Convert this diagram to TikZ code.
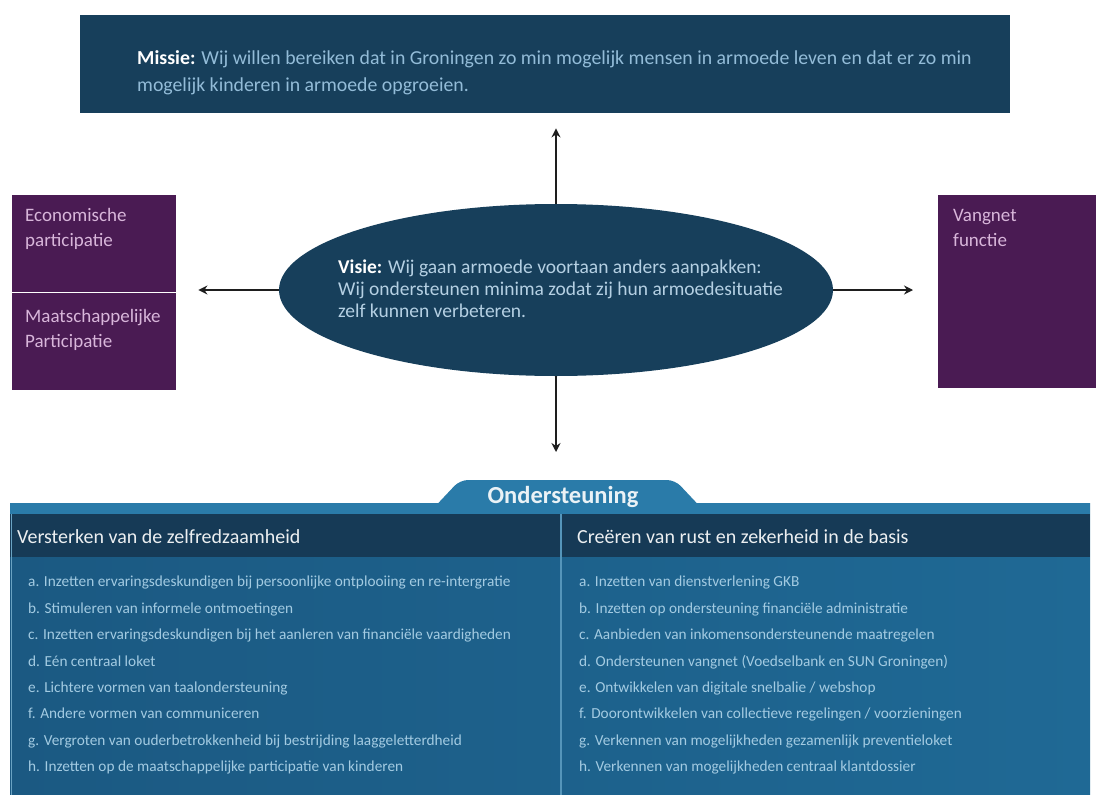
\documentclass[tikz,border=0pt]{standalone}
\usepackage{fontspec}
\setmainfont{Carlito}
\usetikzlibrary{positioning,shapes.geometric,arrows.meta}

\definecolor{donkerblauw}{HTML}{173F5B}
\definecolor{missietekst}{HTML}{93BCD8}
\definecolor{visietekst}{HTML}{B5D0E3}
\definecolor{paars}{HTML}{4A1B53}
\definecolor{paarstekst}{HTML}{D8B6DA}
\definecolor{paneellinks}{HTML}{1B5982}
\definecolor{paneelrechts}{HTML}{1F6995}
\definecolor{kopband}{HTML}{163A56}
\definecolor{tabblauw}{HTML}{2A7BA9}
\definecolor{itemtekst}{HTML}{A3CBE2}
\definecolor{pijlkleur}{HTML}{1E1E1E}

\begin{document}
\begin{tikzpicture}[x=1pt,y=-1pt,
  pijl/.style={draw=pijlkleur, line width=2pt, -{Stealth[length=9pt,width=9pt]}},
  blok/.style={inner sep=0pt, anchor=north west},
  tekst/.style={inner sep=0pt, anchor=north west, align=left},
]

\fill[white] (0,0) rectangle (1096,795);
\useasboundingbox (0,0) rectangle (1096,795);

% missie en visie
\node (missie) [blok, fill=donkerblauw, minimum width=930, minimum height=98] at (80,15) {};
\node (visie) [ellipse, fill=donkerblauw, minimum width=554, minimum height=172, inner sep=0pt] at (556,290) {};

\node (missietxt) [tekst, text=missietekst, font=\fontsize{19.8}{27}\selectfont] at (137,50)
  {\textbf{\color{white}Missie:} Wij willen bereiken dat in Groningen zo min mogelijk mensen in armoede leven en dat er zo min\\mogelijk kinderen in armoede opgroeien.};
\node (visietxt) [tekst, text=visietekst, font=\fontsize{19.5}{22}\selectfont] at (338,260)
  {\textbf{\color{white}Visie:} Wij gaan armoede voortaan anders aanpakken:\\Wij ondersteunen minima zodat zij hun armoedesituatie\\zelf kunnen verbeteren.};

% participatie en vangnet
\node (econ) [blok, fill=paars, minimum width=164, minimum height=97] at (12,195) {};
\node (maat) [blok, fill=paars, minimum width=164, minimum height=98] at (12,292) {};
\draw [white, line width=1.5pt] (econ.south west) -- (econ.south east);
\node (vangnet) [blok, fill=paars, minimum width=158, minimum height=193] at (938,195) {};

\node (econtxt) [tekst, text=paarstekst, font=\fontsize{19}{25}\selectfont] at (25,208) {Economische\\participatie};
\node (maattxt) [tekst, text=paarstekst, font=\fontsize{19}{25}\selectfont] at (25,309) {Maatschappelijke\\Participatie};
\node (vangnettxt) [tekst, text=paarstekst, font=\fontsize{19}{25}\selectfont] at (953,209) {Vangnet\\functie};

% pijlen
\coordinate (tabtop) at (556,480);
\draw [pijl, shorten >=15pt] (visie.north) -- (visie.north |- missie.south);
\draw [pijl, shorten >=22pt] (visie.west) -- (visie.west -| econ.east);
\draw [pijl, shorten >=25pt] (visie.east) -- (visie.east -| vangnet.west);
\draw [pijl, shorten >=28pt] (visie.south) -- (tabtop);

% ondersteuning
\shade [left color=paneellinks, right color=paneelrechts] (10,503) rectangle (1090,795);
\fill [tabblauw, rounded corners=8pt] (428,514) -- (460,480) -- (675,480) -- (707,514) -- cycle;
\fill [tabblauw] (10,503) rectangle (1090,514);
\fill [kopband] (10,514) rectangle (1090,557);
\draw [tabblauw!80!white, line width=1.5pt] (561,514) -- (561,795);
\draw [tabblauw!70!white, line width=1pt] (11,514) -- (11,795);

\node (ondersteuning) [font=\bfseries\fontsize{24.5}{28}\selectfont, text=white!90!tabblauw] at (563,497) {Ondersteuning};
\node (kopzelf) [tekst, text=white!92!kopband, font=\fontsize{20}{24}\selectfont] at (17,529) {Versterken van de zelfredzaamheid};
\node (kopbasis) [tekst, text=white!92!kopband, font=\fontsize{20}{24}\selectfont] at (577,529) {Creëren van rust en zekerheid in de basis};

\node (zelfitems) [tekst, text=itemtekst, font=\fontsize{15.3}{26.4}\selectfont] at (28,576)
  {a. Inzetten ervaringsdeskundigen bij persoonlijke ontplooiing en re-intergratie\\
   b. Stimuleren van informele ontmoetingen\\
   c. Inzetten ervaringsdeskundigen bij het aanleren van financiële vaardigheden\\
   d. Eén centraal loket\\
   e. Lichtere vormen van taalondersteuning\\
   f. Andere vormen van communiceren\\
   g. Vergroten van ouderbetrokkenheid bij bestrijding laaggeletterdheid\\
   h. Inzetten op de maatschappelijke participatie van kinderen};
\node (basisitems) [tekst, text=itemtekst, font=\fontsize{15.3}{26.4}\selectfont] at (579,576)
  {a. Inzetten van dienstverlening GKB\\
   b. Inzetten op ondersteuning financiële administratie\\
   c. Aanbieden van inkomensondersteunende maatregelen\\
   d. Ondersteunen vangnet (Voedselbank en SUN Groningen)\\
   e. Ontwikkelen van digitale snelbalie / webshop\\
   f. Doorontwikkelen van collectieve regelingen / voorzieningen\\
   g. Verkennen van mogelijkheden gezamenlijk preventieloket\\
   h. Verkennen van mogelijkheden centraal klantdossier};

\end{tikzpicture}
\end{document}
